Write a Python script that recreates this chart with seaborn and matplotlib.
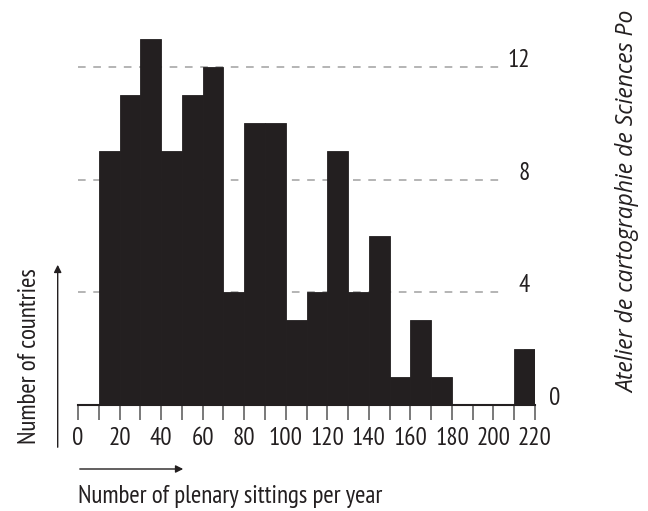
"""Histogram of plenary sittings per year, redrawn with seaborn."""

import pandas as pd
import matplotlib.pyplot as plt
import seaborn as sns

# bin starts (width 10) and number of countries in each bin
bin_starts = list(range(0, 220, 10))
country_counts = [0, 9, 11, 13, 9, 11, 12, 4, 10, 10, 3, 4, 9, 4, 6, 1, 3, 1, 0, 0, 0, 2]
grid_levels = [4, 8, 12]
x_tick_values = list(range(0, 221, 20))
x_minor_values = list(range(10, 220, 20))

df = pd.DataFrame({"sittings": bin_starts, "countries": country_counts})

sns.set_style("white")
plt.rcParams["font.family"] = ["PT Sans Narrow", "DejaVu Sans"]

ink = "#231f20"
W, H = 648, 511

fig = plt.figure(figsize=(W / 100, H / 100), dpi=100)
ax = fig.add_axes([78 / W, 1 - 405 / H, 457 / W, 13.3 * 28.17 / H])

sns.histplot(data=df, x="sittings", weights="countries", binwidth=10, binrange=(0, 220),
             color=ink, edgecolor=ink, linewidth=0.6, alpha=1, ax=ax, zorder=2)

ax.set_xlim(0, 220)
ax.set_ylim(0, 13.3)

# dashed guide lines behind the bars
ax.hlines(grid_levels, 0, 204, colors="#a0a0a0", linestyles=(0, (5, 5)),
          linewidth=1.1, zorder=1)
for v in grid_levels:
    ax.text(217.5, v, str(v), ha="right", va="baseline", fontsize=18, color=ink)
ax.text(232, 0, "0", ha="right", va="baseline", fontsize=18, color=ink)

for side in ["left", "top", "right"]:
    ax.spines[side].set_visible(False)
ax.spines["bottom"].set_color(ink)
ax.spines["bottom"].set_linewidth(1.5)

ax.set_yticks([])
ax.set_xticks(x_tick_values)
ax.set_xticks(x_minor_values, minor=True)
ax.tick_params(axis="x", which="both", bottom=True, length=11, width=1.1,
               color="#555555", direction="out", pad=5, labelsize=18, labelcolor=ink)
ax.set_xlabel("")
ax.set_ylabel("")

# axis titles and arrows
fig.text(78 / W, 1 - 503 / H, "Number of plenary sittings per year",
         ha="left", va="baseline", fontsize=18, color=ink)
fig.text(30 / W, 1 - 356 / H, "Number of countries", rotation=90,
         ha="center", va="center", fontsize=18, color=ink)
ax.annotate("", xy=(57.7 / W, 1 - 262 / H), xytext=(57.7 / W, 1 - 450 / H),
            xycoords="figure fraction",
            arrowprops=dict(arrowstyle="-|>", color=ink, lw=1, mutation_scale=11))
ax.annotate("", xy=(186 / W, 1 - 469 / H), xytext=(77 / W, 1 - 469 / H),
            xycoords="figure fraction",
            arrowprops=dict(arrowstyle="-|>", color=ink, lw=1, mutation_scale=11))

# credit line on the right edge, running off the top as in the original
fig.text(628 / W, 1 - 393 / H, "Atelier de cartographie de Sciences Po",
         rotation=90, rotation_mode="anchor", ha="left", va="center",
         fontstyle="italic", fontstretch="normal", fontweight="normal",
         family=["Open Sans", "DejaVu Sans"], fontsize=16.5, color=ink)

fig.savefig("out.png", dpi=100)
